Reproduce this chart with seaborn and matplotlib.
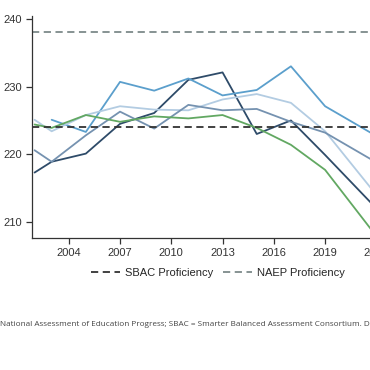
import numpy as np
import pandas as pd
import matplotlib
matplotlib.use("Agg")
import matplotlib.pyplot as plt
import seaborn as sns

# data
years = [2002, 2003, 2005, 2007, 2009, 2011, 2013, 2015, 2017, 2019, 2022]
series_names = ["Series 1", "Series 2", "Series 3", "Series 4", "Series 5"]
navy = [217.3, 218.9, 220.1, 224.5, 226.1, 231.0, 232.1, 223.0, 225.0, 219.9, 212.0]
blue = [np.nan, 225.1, 223.3, 230.7, 229.4, 231.2, 228.7, 229.5, 233.0, 227.1, 222.7]
light = [225.1, 223.4, 225.8, 227.1, 226.6, 226.5, 228.1, 228.9, 227.6, 223.4, 214.0]
slate = [220.6, 218.9, 222.8, 226.3, 223.8, 227.3, 226.5, 226.7, 224.8, 223.2, 218.8]
green = [224.4, 223.9, 225.8, 224.8, 225.6, 225.3, 225.8, 223.9, 221.4, 217.7, 207.9]
colors = ["#2e4b69", "#5b9fcc", "#b3cce2", "#7592b0", "#62a862"]

sbac_level = 224
naep_level = 238
xticks = [2004, 2007, 2010, 2013, 2016, 2019, 2022]
yticks = [210, 220, 230, 240]
note = ("National Assessment of Education Progress; SBAC = Smarter Balanced "
        "Assessment Consortium. Data")

df = pd.DataFrame({
    "year": years * 5,
    "score": navy + blue + light + slate + green,
    "series": [n for n in series_names for _ in years],
}).dropna()

sns.set_style("ticks")
plt.rcParams["font.family"] = ["Liberation Sans", "DejaVu Sans"]

fig = plt.figure(figsize=(3.7, 3.7), dpi=100)
ax = fig.add_axes([0.0865, 0.358, 1.0, 0.6])

sns.lineplot(data=df, x="year", y="score", hue="series", palette=colors,
             linewidth=1.3, legend=False, ax=ax)

ax.axhline(sbac_level, color="#333333", lw=1.3, ls=(0, (4, 2.5)),
           label="SBAC Proficiency")
ax.axhline(naep_level, color="#7d8a8a", lw=1.3, ls=(0, (4, 2.5)),
           label="NAEP Proficiency")

ax.set_xlim(2001.85, 2023.5)
ax.set_ylim(207.7, 240.5)
ax.set_xticks(xticks)
ax.set_yticks(yticks)
ax.set_xlabel("")
ax.set_ylabel("")
ax.tick_params(labelsize=8, length=4, width=0.9, colors="#333333")
for s in ["left", "bottom"]:
    ax.spines[s].set_color("#333333")
    ax.spines[s].set_linewidth(0.9)
sns.despine(ax=ax)

handles, labels = ax.get_legend_handles_labels()
fig.legend(handles, labels, loc="center", bbox_to_anchor=(218 / 370, 1 - 273 / 370),
           ncol=2, frameon=False, fontsize=8, handlelength=2.6,
           handletextpad=0.5, columnspacing=0.8)

fig.text(0.0, 1 - 324 / 370, note, fontsize=5.9, color="#444444",
         family=["Open Sans", "DejaVu Sans"], va="center", ha="left")

fig.savefig("out.png", dpi=100)
